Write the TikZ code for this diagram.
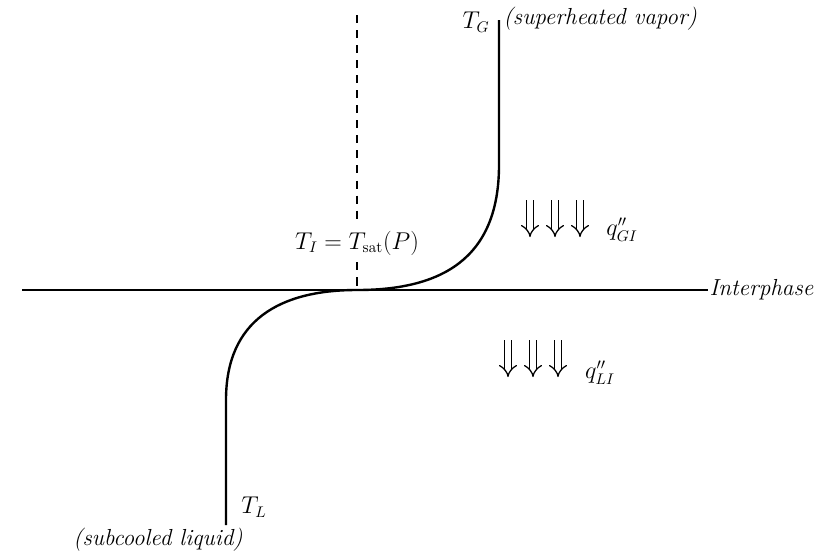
\documentclass[tikz,border=0pt]{standalone}
\usepackage{tikz}
\usetikzlibrary{arrows.meta}
\begin{document}
\begin{tikzpicture}[x=0.025cm, y=-0.025cm,
  lbl/.style={font=\fontsize{16}{19}\selectfont, inner sep=1pt},
  txt/.style={font=\fontsize{16.5}{19}\selectfont\itshape, inner sep=1pt},
  guide/.style={line width=0.9pt, dash pattern=on 5.7pt off 5pt},
  prof/.style={line width=1.7pt},
  flux/.style={double, double distance=3.6pt, line width=0.9pt,
    -{Implies[length=5pt, width=11pt]}}
]
  \useasboundingbox (0,0) rectangle (820,554);
  % interface
  \coordinate (ileft) at (22,290);
  \node[txt, anchor=west] (iphase) at (708,290) {Interphase};
  \draw[line width=1.3pt] (ileft) -- (iphase.west);
  % saturation temperature
  \coordinate (dtop) at (357,15);
  \coordinate (dbot) at (357,290);
  \node[lbl] (tsat) at (357,243) {$T_I = T_{\mathrm{sat}}(P)$};
  \draw[guide, shorten >=5pt] (dtop) -- (tsat.north);
  \draw[guide, shorten <=4pt] (tsat.south) -- (dbot);
  % temperature profile
  \coordinate (gtop) at (499,20);
  \coordinate (ltop) at (226,525);
  \draw[prof] (gtop) -- (499,165)
    .. controls (499,260) and (440,290) .. (dbot)
    .. controls (280,290) and (226,320) .. (226,400) -- (ltop);
  \node[lbl] (tg) at (476,22) {$T_G$};
  \node[txt, anchor=west] (vap) at (502,19) {(superheated vapor)};
  \node[lbl] (tl) at (254,507) {$T_L$};
  \node[txt] (liq) at (158,540) {(subcooled liquid)};
  % heat fluxes
  \foreach \x in {530,555,580}
    \draw[flux] (\x,200) -- (\x,237);
  \node[lbl] (qgi) at (622,230) {$q''_{GI}$};
  \foreach \x in {508,533,558}
    \draw[flux] (\x,340) -- (\x,377);
  \node[lbl] (qli) at (600,373) {$q''_{LI}$};
\end{tikzpicture}
\end{document}
